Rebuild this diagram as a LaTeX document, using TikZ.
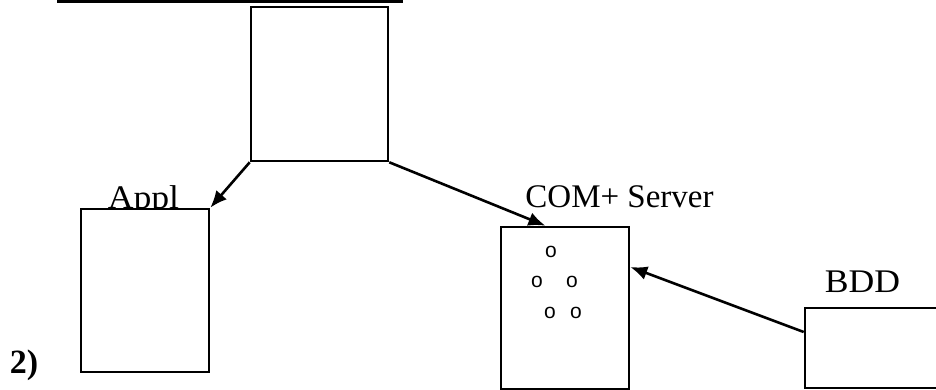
\documentclass[tikz,border=0pt]{standalone}
\usepackage{fontspec}
\setmainfont{Liberation Serif}
\newfontfamily\osans{Liberation Sans}
\usetikzlibrary{arrows.meta,calc}
\begin{document}
\begin{tikzpicture}[x=1pt,y=-1pt,
  box/.style={draw, line width=2.6pt, fill=white, inner sep=0pt, rectangle},
  conn/.style={-{Latex[length=17pt,width=14pt]}, line width=2.6pt},
  lab/.style={anchor=base, inner sep=0pt, font=\fontsize{33}{40}\selectfont},
  dot/.style={inner sep=0pt, font=\osans\fontsize{21}{24}\selectfont}]
\useasboundingbox (0,0) rectangle (936,390);
\clip (0,0) rectangle (936,390);
% heading underline
\fill (57,0) rectangle (403,3.5);
% labels (drawn first so the boxes cover descenders)
\node[lab, xscale=1.08, transform shape] (lappl) at (143.5,208) {Appl};
\node[lab] (lcom) at (619.5,207) {COM+ Server};
\node[lab, xscale=1.08, transform shape] (lbdd) at (862.5,292.5) {BDD};
\node[lab, font=\bfseries\fontsize{34}{40}\selectfont] (ltwo) at (24,373) {2)};
% boxes
\node[box, minimum width=137pt, minimum height=154pt] (top) at (319.5,84) {};
\node[box, minimum width=128pt, minimum height=163pt] (appl) at (145,290.5) {};
\node[box, minimum width=128pt, minimum height=162pt] (com) at (565,308) {};
\node[box, minimum width=160pt, minimum height=80pt] (bdd) at (885,348) {};
% small o marks
\node[dot] (o1) at (551,252) {o};
\node[dot] (o2) at (537,282) {o};
\node[dot] (o3) at (572,282) {o};
\node[dot] (o4) at (550,313) {o};
\node[dot] (o5) at (576,313) {o};
% connector end points
\coordinate (comtop) at ($(com.north west)!0.35!(com.north east)$);
\coordinate (comright) at (com.east |- 0,267);
\coordinate (bddleft) at (bdd.west |- 0,332);
% connectors
\draw[conn] (top.south west) -- (appl.north east);
\draw[conn] (top.south east) -- (comtop);
\draw[conn] (bddleft) -- (comright);
\end{tikzpicture}
\end{document}
